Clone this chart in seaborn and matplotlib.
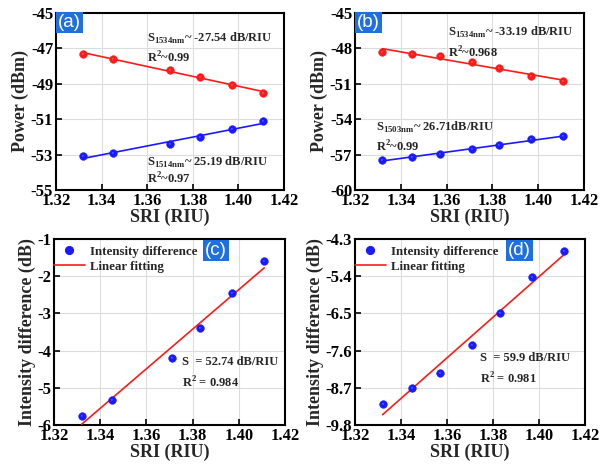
import numpy as np
import pandas as pd
import matplotlib
matplotlib.use("Agg")
import matplotlib.pyplot as plt
from matplotlib.path import Path
from matplotlib.lines import Line2D
import seaborn as sns

# ---------------- data ----------------
sri_a = [1.332, 1.345, 1.370, 1.383, 1.397, 1.411]
pow_a_1534 = [-47.33, -47.60, -48.25, -48.66, -49.07, -49.51]
pow_a_1514 = [-53.08, -52.93, -52.43, -52.04, -51.54, -51.14]

sri_b = [1.332, 1.345, 1.357, 1.371, 1.383, 1.397, 1.411]
pow_b_1534 = [-48.31, -48.48, -48.70, -49.17, -49.72, -50.36, -50.83]
pow_b_1503 = [-57.49, -57.19, -56.94, -56.57, -56.19, -55.72, -55.47]

sri_c = [1.332, 1.345, 1.371, 1.383, 1.397, 1.411]
diff_c = [-5.75, -5.34, -4.20, -3.39, -2.46, -1.59]

sri_d = [1.332, 1.345, 1.357, 1.371, 1.383, 1.397, 1.411]
diff_d = [-9.18, -8.72, -8.27, -7.42, -6.49, -5.41, -4.65]

xticks = [1.32, 1.34, 1.36, 1.38, 1.40, 1.42]
yticks_a = [-55, -53, -51, -49, -47, -45]
yticks_b = [-60, -57, -54, -51, -48, -45]
yticks_c = [-6, -5, -4, -3, -2, -1]
yticks_d = [-9.8, -8.7, -7.6, -6.5, -5.4, -4.3]

RED = "#ff1a1a"
BLUE = "#1a1aff"

sns.set_theme(style="whitegrid")
plt.rcParams["font.family"] = ["Liberation Serif", "DejaVu Serif"]
plt.rcParams["font.weight"] = "bold"
plt.rcParams["mathtext.fontset"] = "custom"
plt.rcParams["mathtext.rm"] = "Liberation Serif:bold"
plt.rcParams["mathtext.bf"] = "Liberation Serif:bold"

fig = plt.figure(figsize=(6.07, 4.69), dpi=100)
W, H = 607.0, 469.0


def make_ax(l, r, t, b):
    return fig.add_axes([l / W, 1 - b / H, (r - l) / W, (b - t) / H])


ax_a = make_ax(56, 284, 12.5, 190)
ax_b = make_ax(355, 584, 12.5, 190)
ax_c = make_ax(54, 285, 239, 425)
ax_d = make_ax(355, 585, 239, 425)

# highlight marker (small offset circle) to mimic shaded spheres
circ = Path.circle(center=(-0.28, 0.28), radius=0.3)
HL_MARKER = Path(np.vstack([circ.vertices * 0.55, [[1.0, 1.0], [-1.0, -1.0]]]),
                 np.concatenate([circ.codes, [Path.MOVETO, Path.MOVETO]]))


def spheres(ax, x, y, color, size=5.6):
    df = pd.DataFrame({"x": x, "y": y})
    sns.scatterplot(data=df, x="x", y="y", ax=ax, color=color, s=size ** 2,
                    edgecolor=color, linewidth=0.3, zorder=4, legend=False)
    ax.scatter(df["x"], df["y"], s=size ** 2, marker=HL_MARKER,
               color="white", alpha=0.55, linewidths=0, zorder=5)


def fitline(ax, x, y, color, lw=1.2):
    df = pd.DataFrame({"x": x, "y": y})
    sns.regplot(data=df, x="x", y="y", ax=ax, ci=None, scatter=False, truncate=True,
                line_kws={"color": color, "lw": lw, "zorder": 3})


def style(ax, yticks, ylabel):
    ax.set_xlim(1.32, 1.42)
    ax.set_ylim(yticks[0], yticks[-1])
    ax.set_xticks(xticks)
    ax.set_xticklabels([f"{v:.2f}" for v in xticks])
    ax.set_yticks(yticks)
    ax.set_yticklabels([f"{v:g}" for v in yticks])
    ax.grid(True, color="#dcdcdc", lw=0.8)
    for s in ax.spines.values():
        s.set_color("black")
        s.set_linewidth(1.5)
        s.set_visible(True)
    ax.tick_params(axis="both", direction="in", length=4, width=1.2, colors="black",
                   labelsize=12, pad=2, top=False, right=False, bottom=True, left=True)
    for lab in ax.get_xticklabels() + ax.get_yticklabels():
        lab.set_fontweight("bold")
    ax.set_xlabel("SRI (RIU)", fontsize=13, fontweight="bold", labelpad=0)
    ax.set_ylabel(ylabel, fontsize=13, fontweight="bold", labelpad=1)


def panel_label(ax, text, x, y):
    ax.text(x, y, text, transform=ax.transAxes, fontsize=13.5, color="white",
            fontweight="normal", family=["Liberation Sans", "DejaVu Sans"],
            ha="left", va="top", zorder=10,
            bbox=dict(boxstyle="square,pad=0.1", fc="#1f6fe0", ec="none"))


def note(ax, x, y, s, fs=9):
    ax.text(x, y, s, transform=ax.transAxes, fontsize=fs, fontweight="bold",
            va="center", ha="left", zorder=6)


SUB = lambda t: r"$_{\mathregular{" + t + "}}$"
SUP2 = r"$^{\mathregular{2}}$"

# ---- (a)
fitline(ax_a, sri_a, pow_a_1534, RED)
fitline(ax_a, sri_a, pow_a_1514, BLUE)
spheres(ax_a, sri_a, pow_a_1534, RED)
spheres(ax_a, sri_a, pow_a_1514, BLUE)
style(ax_a, yticks_a, "Power (dBm)")
panel_label(ax_a, "(a)", 0.01, 0.99)
note(ax_a, 0.40, 0.855, "S" + SUB("1534nm") + "~ -27.54 dB/RIU")
note(ax_a, 0.40, 0.745, "R" + SUP2 + "~0.99")
note(ax_a, 0.40, 0.155, "S" + SUB("1514nm") + "~ 25.19 dB/RIU")
note(ax_a, 0.40, 0.062, "R" + SUP2 + "~0.97")

# ---- (b)
fitline(ax_b, sri_b, pow_b_1534, RED)
fitline(ax_b, sri_b, pow_b_1503, BLUE)
spheres(ax_b, sri_b, pow_b_1534, RED)
spheres(ax_b, sri_b, pow_b_1503, BLUE)
style(ax_b, yticks_b, "Power (dBm)")
panel_label(ax_b, "(b)", 0.01, 0.99)
note(ax_b, 0.405, 0.885, "S" + SUB("1534nm") + "~ -33.19 dB/RIU")
note(ax_b, 0.405, 0.77, "R" + SUP2 + "~0.968")
note(ax_b, 0.09, 0.355, "S" + SUB("1503nm") + "~ 26.71dB/RIU")
note(ax_b, 0.09, 0.245, "R" + SUP2 + "~0.99")

# ---- (c)
fitline(ax_c, sri_c, diff_c, RED)
spheres(ax_c, sri_c, diff_c, BLUE)
style(ax_c, yticks_c, "Intensity difference (dB)")
note(ax_c, 0.555, 0.34, "S  = 52.74 dB/RIU")
note(ax_c, 0.555, 0.225, "R" + SUP2 + " = 0.984")

# ---- (d)
fitline(ax_d, sri_d, diff_d, RED)
spheres(ax_d, sri_d, diff_d, BLUE)
style(ax_d, yticks_d, "Intensity difference (dB)")
note(ax_d, 0.545, 0.36, "S  = 59.9 dB/RIU")
note(ax_d, 0.545, 0.245, "R" + SUP2 + " = 0.981")

for ax, lab, lx in [(ax_c, "(c)", 0.655), (ax_d, "(d)", 0.665)]:
    handles = [Line2D([], [], ls="none", marker="o", color=BLUE, markersize=5.6),
               Line2D([], [], color=RED, lw=1.2)]
    ax.legend(handles, ["Intensity difference", "Linear fitting"], loc="upper left",
              frameon=False, handlelength=2.4, handletextpad=0.45,
              borderaxespad=0.1, labelspacing=0.25, bbox_to_anchor=(-0.03, 1.0),
              prop={"weight": "bold", "size": 9.3})
    panel_label(ax, lab, lx, 0.985)

fig.savefig("out.png", dpi=100)
